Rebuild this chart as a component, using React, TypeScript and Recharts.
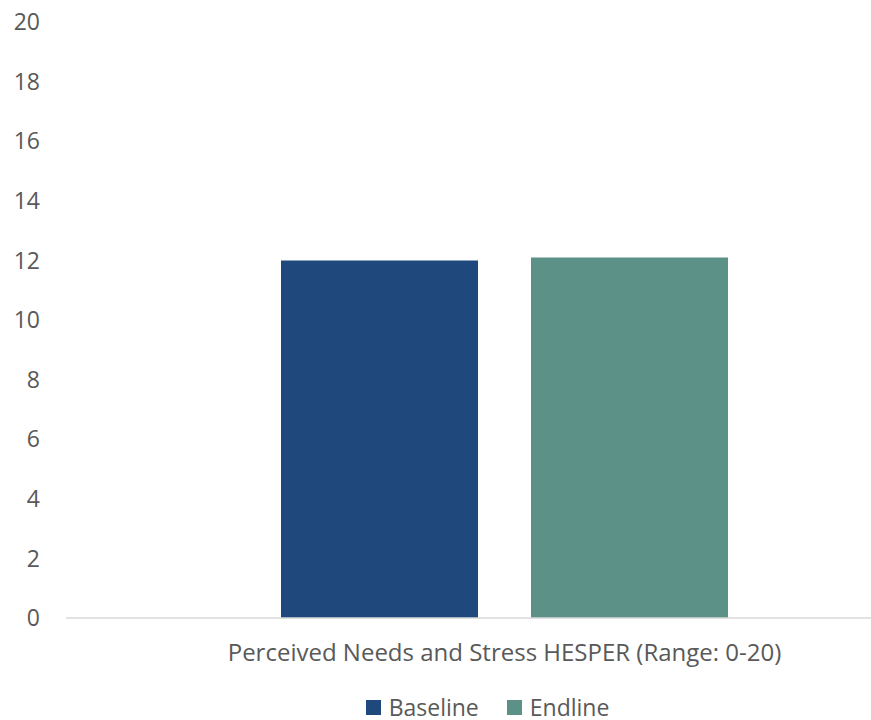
import { BarChart, Bar, XAxis, YAxis, Legend } from "recharts";

const CATEGORIES = ["Perceived Needs and Stress HESPER (Range: 0-20)"];
const BASELINE = [12.0];
const ENDLINE = [12.1];
const Y_TICKS = [0, 2, 4, 6, 8, 10, 12, 14, 16, 18, 20];

const SERIES = [
  { key: "Baseline", color: "#1f497d" },
  { key: "Endline", color: "#5c9187" },
];

const data = CATEGORIES.map((name, i) => ({
  name,
  Baseline: BASELINE[i],
  Endline: ENDLINE[i],
}));

const FONT = "'Open Sans', sans-serif";
const TEXT = "#595959";

function LegendBox() {
  return (
    <div
      style={{
        display: "flex",
        justifyContent: "center",
        alignItems: "center",
        gap: 28,
        height: 24,
        fontFamily: FONT,
        fontSize: 23,
        lineHeight: "24px",
        color: TEXT,
        paddingLeft: 104,
      }}
    >
      {SERIES.map((s) => (
        <div key={s.key} style={{ display: "flex", alignItems: "center", gap: 8 }}>
          <span style={{ width: 15, height: 15, background: s.color, display: "inline-block" }} />
          <span>{s.key}</span>
        </div>
      ))}
    </div>
  );
}

export default function App() {
  return (
    <div style={{ position: "absolute", left: 0, top: 0, width: 871, height: 720, background: "#fff" }}>
      <BarChart
        width={871}
        height={720}
        data={data}
        margin={{ top: 22, right: 0, left: 0, bottom: 48 }}
        barSize={197}
        barGap={53}
      >
        <XAxis
          dataKey="name"
          padding={{ left: 72, right: 0 }}
          axisLine={{ stroke: "#d9d9d9", strokeWidth: 1.5 }}
          tickLine={false}
          tickMargin={20}
          tick={{ fill: TEXT, fontSize: 24, fontFamily: FONT }}
        />
        <YAxis
          domain={[0, 20]}
          ticks={Y_TICKS}
          width={66}
          axisLine={false}
          tickLine={false}
          tickMargin={20}
          tick={{ fill: TEXT, fontSize: 23, fontFamily: FONT }}
          interval={0}
        />
        <Legend
          content={<LegendBox />}
          verticalAlign="bottom"
          wrapperStyle={{ position: "absolute", top: 695, left: 0, width: 871 }}
        />
        {SERIES.map((s) => (
          <Bar key={s.key} dataKey={s.key} fill={s.color} isAnimationActive={false} />
        ))}
      </BarChart>
    </div>
  );
}
